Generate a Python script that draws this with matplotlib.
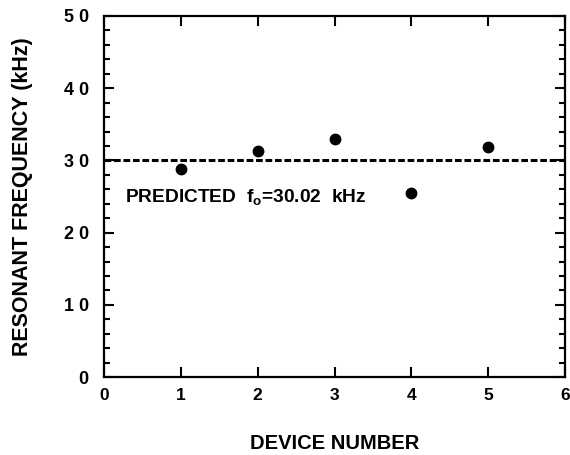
import matplotlib
matplotlib.use("Agg")
from matplotlib import pyplot as plt
from matplotlib.ticker import MultipleLocator

# device resonant frequencies
device = [1, 2, 3, 4, 5]
freq_khz = [28.8, 31.3, 33.0, 25.5, 31.9]
predicted = 30.02

y_ticks = [0, 10, 20, 30, 40, 50]
y_labels = ['0', '1 0', '2 0', '3 0', '4 0', '5 0']
x_ticks = [0, 1, 2, 3, 4, 5, 6]

plt.rcParams['font.family'] = ['Liberation Sans', 'DejaVu Sans']
plt.rcParams['font.weight'] = 'bold'
plt.rcParams['mathtext.fontset'] = 'custom'
plt.rcParams['mathtext.rm'] = 'Liberation Sans:bold'
plt.rcParams['mathtext.it'] = 'Liberation Sans:bold'
plt.rcParams['mathtext.default'] = 'rm'

fig = plt.figure(figsize=(5.7, 4.55), dpi=100)
ax = fig.add_axes([0.1825, 0.171, 0.809, 0.794])

ax.axhline(predicted, color='black', linewidth=2.2, linestyle=(0, (2.2, 0.9)))
ax.plot(device, freq_khz, 'o', color='black', markersize=7.5)

ax.text(0.27, 25.0, 'PREDICTED  f$_{o}$=30.02  kHz', fontsize=13.8,
        fontweight='bold', va='center', ha='left')

ax.set_xlim(0, 6)
ax.set_ylim(0, 50)
ax.set_xticks(x_ticks)
ax.set_yticks(y_ticks)
ax.set_yticklabels(y_labels)
ax.yaxis.set_minor_locator(MultipleLocator(2))

ax.tick_params(which='both', direction='in', top=True, right=True, width=1.5)
ax.tick_params(axis='x', labelsize=12.5, pad=8)
ax.tick_params(axis='y', labelsize=13, pad=11)
ax.tick_params(which='major', length=7)
ax.tick_params(which='minor', length=4)
for s in ax.spines.values():
    s.set_linewidth(1.6)

ax.set_xlabel('DEVICE NUMBER', fontsize=14.5, fontweight='bold', labelpad=22)
ax.set_ylabel('RESONANT FREQUENCY (kHz)', fontsize=15.5, fontweight='bold', labelpad=22)

fig.savefig('out.png', dpi=100)
